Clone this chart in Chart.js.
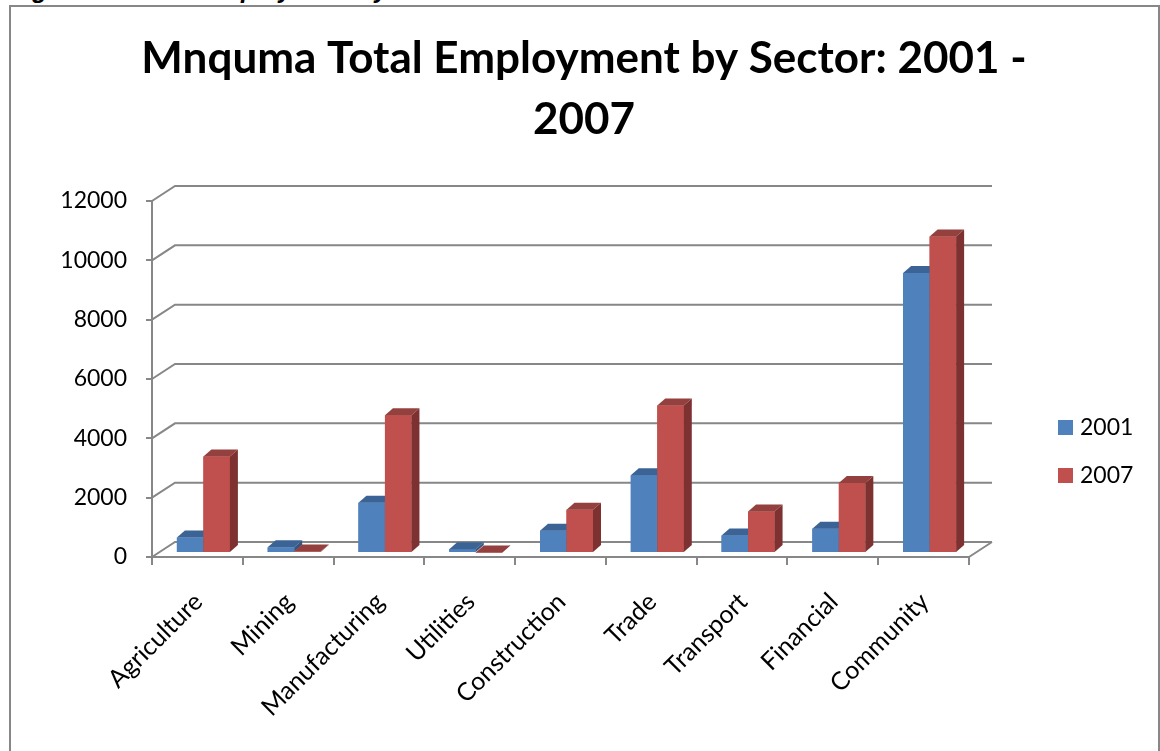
<!DOCTYPE html>
<html>
<head>
<meta charset="utf-8">
<title>Mnquma Total Employment by Sector</title>
<script src="https://cdn.jsdelivr.net/npm/chart.js@4.4.0/dist/chart.umd.min.js"></script>
<style>
  html, body { margin: 0; padding: 0; background: #fff; overflow: hidden; }
  #wrap { position: relative; width: 1160px; height: 751px; overflow: hidden; }
  #chart { position: absolute; left: 0; top: 0; }
  #caption { position: absolute; left: 10px; top: -23px; font: italic bold 25px "Liberation Sans", Arial, sans-serif; line-height: 25px; white-space: nowrap; color: #000; }
  #frame { position: absolute; left: 9px; top: 5px; width: 1151px; height: 800px; box-sizing: border-box; border: 2px solid #878787; pointer-events: none; }
</style>
</head>
<body>
<div id="wrap">
  <div id="caption">Figure 10: Total Employment by Sector</div>
  <canvas id="chart" width="1160" height="751"></canvas>
  <div id="frame"></div>
</div>
<script>
// Employment per sector, Mnquma, 2001 and 2007
const sectors = ['Agriculture', 'Mining', 'Manufacturing', 'Utilities', 'Construction',
                 'Trade', 'Transport', 'Financial', 'Community'];
const seriesNames = ['2001', '2007'];
const jobs2001 = [520, 190, 1690, 130, 750, 2620, 590, 820, 9440];
const jobs2007 = [3250, 50, 4640, 20, 1460, 4970, 1400, 2360, 10670];
const yMax = 12000;
const yStep = 2000;
const titleLines = ['Mnquma Total Employment by Sector: 2001 -', '2007'];

// Styling
const FRONT = ['#4F81BD', '#C0504D'];
const TOP   = ['#3C6395', '#94403E'];
const SIDE  = ['#34557F', '#7D3130'];
const AXIS  = '#878787';
const FONT  = 'Lato, "Open Sans", sans-serif';
const WALL  = { dx: 23, dy: 15 };   // back wall offset behind the front axes
const ROW   = { dx: 6,  dy: 4  };   // bar row sits a little behind the front edge
const BOX   = { dx: 8,  dy: 7  };   // bar depth (top and side faces)

// Back wall gridlines, the diagonals from the value axis and the floor edge
const backWall = {
  id: 'backWall',
  beforeDatasetsDraw(chart) {
    const { ctx, chartArea: a, scales: { y } } = chart;
    ctx.save();
    ctx.strokeStyle = AXIS;
    ctx.lineWidth = 2;
    ctx.beginPath();
    y.ticks.forEach(t => {
      const py = y.getPixelForValue(t.value);
      ctx.moveTo(a.left, py);
      ctx.lineTo(a.left + WALL.dx, py - WALL.dy);
      ctx.lineTo(a.right + WALL.dx, py - WALL.dy);
    });
    const p0 = y.getPixelForValue(0);
    ctx.moveTo(a.right, p0);
    ctx.lineTo(a.right + WALL.dx, p0 - WALL.dy);
    ctx.stroke();
    ctx.restore();
  }
};

// Extrudes every bar into a box: front face from the library, then top and side
const bars3d = {
  id: 'bars3d',
  beforeDatasetsDraw(chart) {
    chart.ctx.save();
    chart.ctx.translate(ROW.dx, -ROW.dy);
  },
  afterDatasetsDraw(chart) {
    const ctx = chart.ctx;
    const metas = chart.data.datasets.map((_, i) => chart.getDatasetMeta(i));
    const n = chart.data.labels.length;
    for (let i = 0; i < n; i++) {
      metas.forEach((meta, d) => {
        const bar = meta.data[i];
        bar.draw(ctx);
        const { x, y, base, width } = bar.getProps(['x', 'y', 'base', 'width'], true);
        const x0 = x - width / 2, x1 = x + width / 2;
        ctx.fillStyle = TOP[d];
        ctx.beginPath();
        ctx.moveTo(x0, y);
        ctx.lineTo(x0 + BOX.dx, y - BOX.dy);
        ctx.lineTo(x1 + BOX.dx, y - BOX.dy);
        ctx.lineTo(x1, y);
        ctx.closePath();
        ctx.fill();
        ctx.fillStyle = SIDE[d];
        ctx.beginPath();
        ctx.moveTo(x1, y);
        ctx.lineTo(x1 + BOX.dx, y - BOX.dy);
        ctx.lineTo(x1 + BOX.dx, base - BOX.dy);
        ctx.lineTo(x1, base);
        ctx.closePath();
        ctx.fill();
      });
    }
    ctx.restore();
  }
};

// Two-line heading centred over the whole frame
const heading = {
  id: 'heading',
  afterDraw(chart) {
    const ctx = chart.ctx;
    ctx.save();
    ctx.fillStyle = '#000';
    ctx.font = 'bold 44px ' + FONT;
    ctx.textAlign = 'center';
    ctx.textBaseline = 'alphabetic';
    titleLines.forEach((line, k) => ctx.fillText(line, 584, 73 + k * 61));
    ctx.restore();
  }
};

// Series key to the right of the plot
const seriesKey = {
  id: 'seriesKey',
  afterDraw(chart) {
    const ctx = chart.ctx;
    const x = chart.chartArea.right + 89;
    ctx.save();
    ctx.font = '23px ' + FONT;
    ctx.textBaseline = 'middle';
    ctx.textAlign = 'left';
    chart.data.datasets.forEach((ds, k) => {
      const cy = 427 + k * 48;
      ctx.fillStyle = ds.backgroundColor;
      ctx.fillRect(x, cy - 7, 15, 15);
      ctx.fillStyle = '#000';
      ctx.fillText(ds.label, x + 22, cy + 1);
    });
    ctx.restore();
  }
};

new Chart(document.getElementById('chart'), {
  type: 'bar',
  data: {
    labels: sectors,
    datasets: [
      { label: seriesNames[0], data: jobs2001, backgroundColor: FRONT[0] },
      { label: seriesNames[1], data: jobs2007, backgroundColor: FRONT[1] }
    ]
  },
  options: {
    responsive: false,
    animation: false,
    devicePixelRatio: 1,
    layout: { padding: { top: 201, right: 191, bottom: 0, left: 0 } },
    datasets: {
      bar: { categoryPercentage: 0.584, barPercentage: 1.0, borderWidth: 0 }
    },
    plugins: {
      legend: { display: false },
      title: { display: false },
      tooltip: { enabled: false }
    },
    scales: {
      x: {
        offset: true,
        afterFit(scale) { scale.height = 194; },
        border: { display: true, color: AXIS, width: 2 },
        grid: { display: true, offset: true, drawOnChartArea: false, drawTicks: true, tickLength: 8, color: AXIS, lineWidth: 2 },
        ticks: {
          autoSkip: false, maxRotation: 45, minRotation: 45, labelOffset: 1, padding: 22,
          color: '#000', font: { family: FONT, size: 25 }
        }
      },
      y: {
        min: 0, max: yMax,
        afterFit(scale) { scale.width = 152; },
        border: { display: true, color: AXIS, width: 2 },
        grid: { display: true, drawOnChartArea: false, drawTicks: true, tickLength: 6, color: AXIS, lineWidth: 2 },
        ticks: {
          stepSize: yStep, padding: 19, color: '#000', font: { family: FONT, size: 23 },
          callback: v => String(v)
        }
      }
    }
  },
  plugins: [backWall, bars3d, heading, seriesKey]
});
</script>
</body>
</html>
